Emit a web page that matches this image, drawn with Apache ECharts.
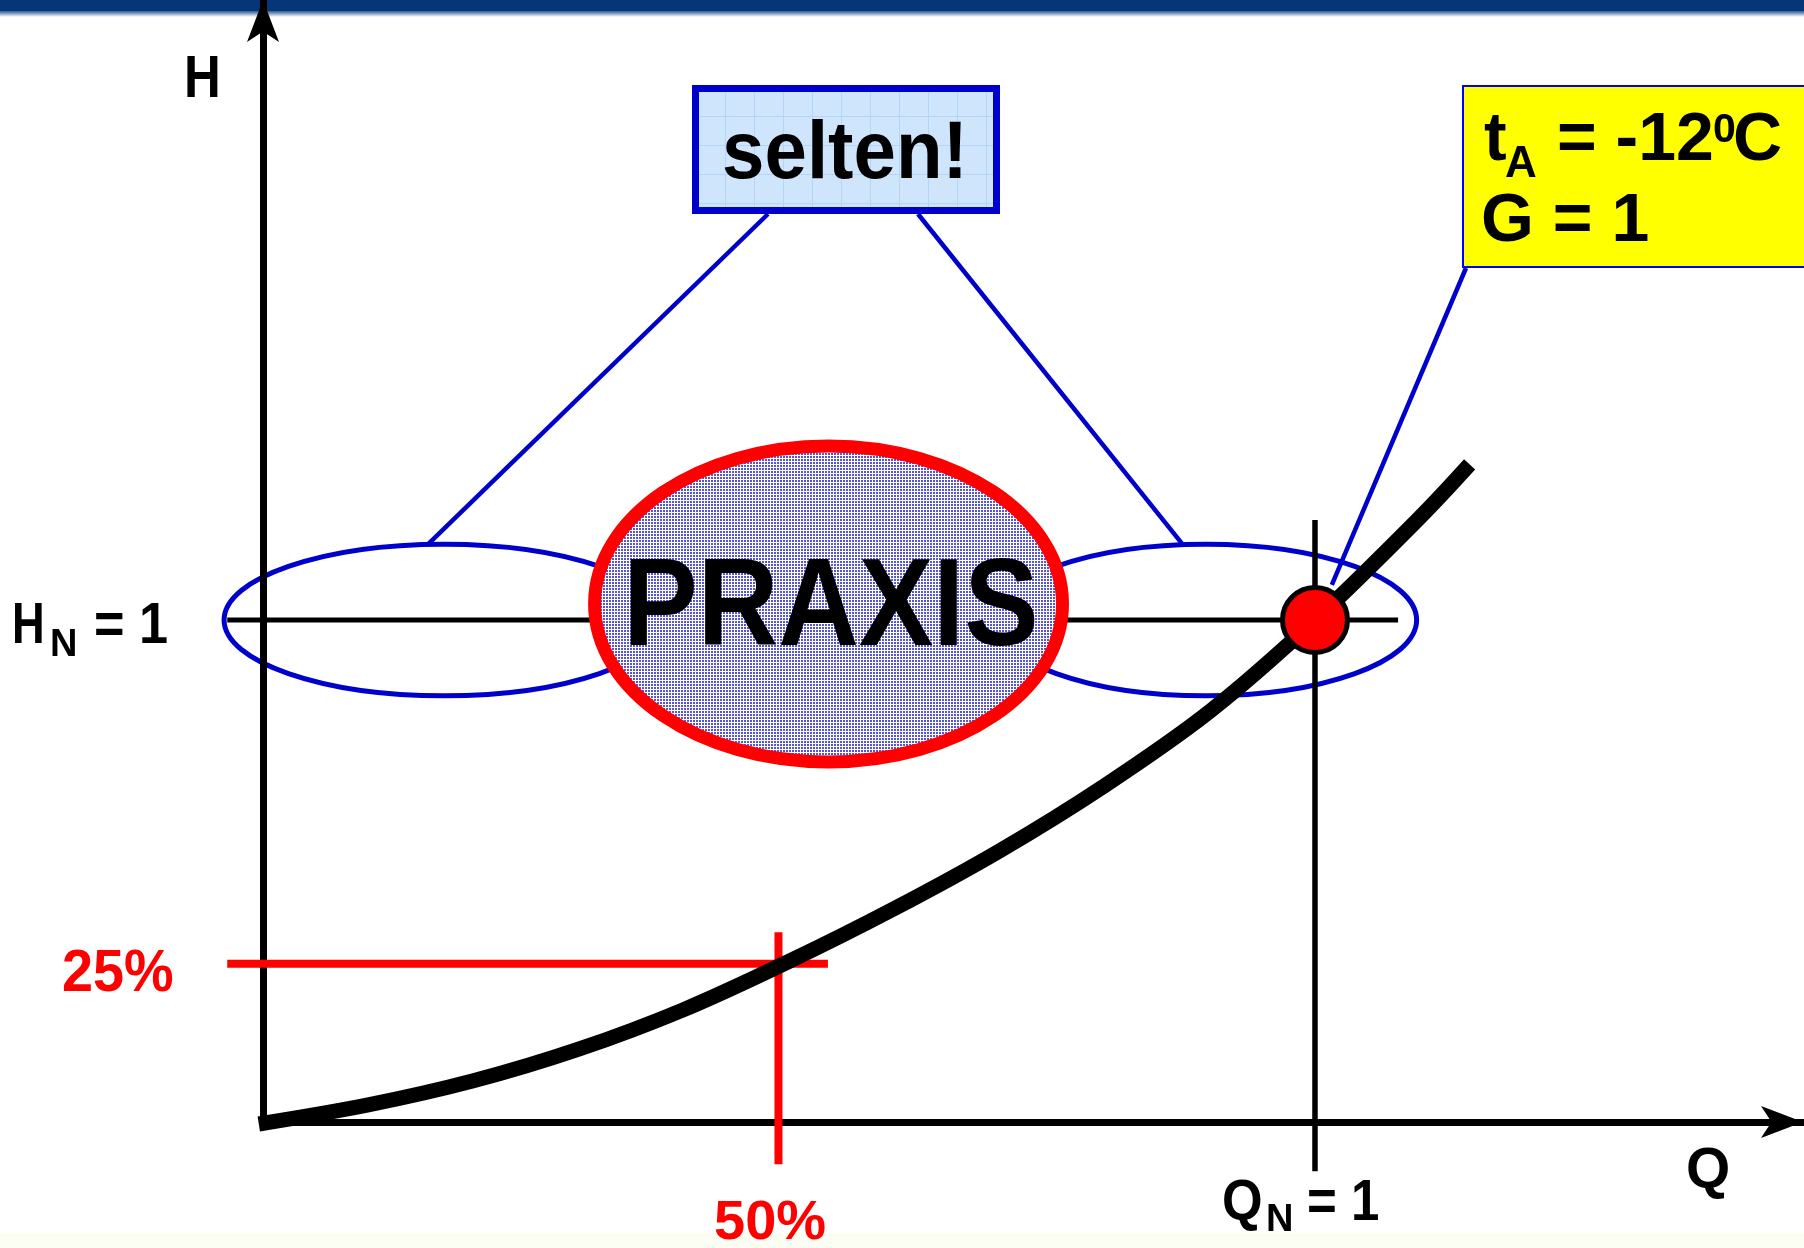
<!DOCTYPE html>
<html><head><meta charset="utf-8">
<script src="https://cdn.jsdelivr.net/npm/echarts@6/dist/echarts.min.js"></script>
<style>html,body{margin:0;padding:0;background:#fff}#c{width:1804px;height:1248px}</style>
</head><body><div id="c"></div>
<script>
// ---- data (Q relative flow, H relative head) ----
const curveQ = [-0.004, 0.1, 0.2, 0.3, 0.4, 0.5, 0.6, 0.7, 0.8, 0.9, 1.0, 1.1, 1.147];
const curveH = [-0.004, 0.034, 0.082, 0.145, 0.224, 0.32, 0.425, 0.54, 0.67, 0.818, 1.0, 1.205, 1.31];
const ratedPoint = [1, 1];            // Q_N = 1, H_N = 1
const partLoad = [0.49, 0.315];       // 50 % flow, "25 %" head
const tickLabels = { hN: 'H', hNsub: 'N', hNrest: '= 1', qN: 'Q', qNsub: 'N', qNrest: '= 1', h25: '25%', q50: '50%' };
const axisNames = { x: 'Q', y: 'H' };
const noteRare = 'selten!';
const notePractice = 'PRAXIS';
const noteDesign = { t: 't', tSub: 'A', rest: '= -12', sup: '0', unit: 'C', line2: 'G = 1' };

const FONT = '"Liberation Sans", Arial, Helvetica, sans-serif';
const chart = echarts.init(document.getElementById('c'), null, { renderer: 'canvas' });

const option = {
  animation: false,
  backgroundColor: '#ffffff',
  grid: { left: 263, top: 0, width: 1540, height: 1122, containLabel: false },
  xAxis: {
    type: 'value', min: 0, max: 1.4639, z: 4,
    axisLine: { show: true, onZero: false, symbol: ['none', 'arrow'], symbolSize: [24, 42], lineStyle: { color: '#000', width: 7 } },
    axisTick: { show: false }, axisLabel: { show: false }, splitLine: { show: false }
  },
  yAxis: {
    type: 'value', min: 0, max: 2.2351, z: 4,
    axisLine: { show: true, onZero: false, symbol: ['none', 'arrow'], symbolSize: [24, 42], lineStyle: { color: '#000', width: 7 } },
    axisTick: { show: false }, axisLabel: { show: false }, splitLine: { show: false }
  },
  series: [
    { type: 'line', z: 5, clip: false, symbol: 'none', silent: true, smooth: 0.35,
      data: curveQ.map((q, i) => [q, curveH[i]]),
      lineStyle: { color: '#000', width: 15, cap: 'butt', join: 'round' } },
    { type: 'scatter', z: 7, symbol: 'circle', symbolSize: 65, silent: true,
      data: [ratedPoint],
      itemStyle: { color: '#ff0000', borderColor: '#000', borderWidth: 5, opacity: 1 } }
  ]
};
chart.setOption(option);

function px(q, h) { return chart.convertToPixel({ gridIndex: 0 }, [q, h]); }
function pattern(w, h, draw) { const c = document.createElement('canvas'); c.width = w; c.height = h; draw(c.getContext('2d')); return c; }
const dots = pattern(3, 3, g => { g.fillStyle = '#ffffff'; g.fillRect(0, 0, 3, 3); g.fillStyle = '#5454d4'; g.fillRect(0, 0, 2, 2); });
const gridTile = pattern(29, 29, g => { g.fillStyle = '#cfe5fb'; g.fillRect(0, 0, 29, 29); g.fillStyle = '#b2d5f8'; g.fillRect(0, 0, 29, 1); g.fillRect(0, 0, 1, 29); });

function T(text, x, cy, size, color, sx, align) {
  return { type: 'text', x: x, y: cy, scaleX: sx || 1, z: 10, silent: true,
    style: { text: text, font: 'bold ' + size + 'px ' + FONT, fill: color || '#000',
      align: align || 'left', verticalAlign: 'middle', textAlign: align || 'left', textVerticalAlign: 'middle' } };
}
function ell(q, h, rq, rh, stroke, lw, fill, z) {
  const c = px(q, h), e = px(q + rq, h + rh);
  return { type: 'ellipse', z: z, silent: true,
    shape: { cx: c[0], cy: c[1], rx: Math.abs(e[0] - c[0]), ry: Math.abs(e[1] - c[1]) },
    style: { stroke: stroke, lineWidth: lw, fill: fill } };
}
function seg(p1, p2, color, lw, z) {
  return { type: 'line', z: z, silent: true, shape: { x1: p1[0], y1: p1[1], x2: p2[0], y2: p2[1] }, style: { stroke: color, lineWidth: lw, lineCap: 'butt' } };
}

const blue = '#0000cc';
const graphics = [
  // header band
  { type: 'rect', z: 0, silent: true, shape: { x: 0, y: 0, width: 1804, height: 11 }, style: { fill: '#06367a' } },
  { type: 'rect', z: 0, silent: true, shape: { x: 0, y: 11, width: 1804, height: 6 },
    style: { fill: new echarts.graphic.LinearGradient(0, 0, 0, 1, [{ offset: 0, color: '#2a5a92' }, { offset: 1, color: '#ffffff' }]) } },
  { type: 'rect', z: 0, silent: true, shape: { x: 0, y: 1233, width: 1804, height: 15 }, style: { fill: '#fcfdf3' } },
  // ellipses
  ell(0.172, 1, 0.209, 0.151, blue, 5, 'rgba(0,0,0,0)', 1),
  ell(0.896, 1, 0.2006, 0.151, blue, 5, 'rgba(0,0,0,0)', 1),
  // reference lines
  seg(px(-0.034, ratedPoint[1]), px(1.079, ratedPoint[1]), '#000', 5, 2),
  seg(px(ratedPoint[0], -0.098), px(ratedPoint[0], 1.199), '#000', 5.5, 5),
  seg(px(-0.034, partLoad[1]), px(0.537, partLoad[1]), '#ff0000', 8, 5),
  seg(px(partLoad[0], -0.084), px(partLoad[0], 0.378), '#ff0000', 8, 5),
  // praxis
  ell(0.5376, 1.032, 0.2224, 0.3147, '#ff0000', 13, { image: dots, repeat: 'repeat' }, 3),
  T(notePractice, 831, 611, 124, '#000', 0.9, 'center'),
  // connectors
  seg([768, 214], px(0.157, 1.151), blue, 4.5, 3),
  seg([918, 214], px(0.874, 1.151), blue, 4.5, 3),
  seg([1466, 268], px(1.016, 1.07), blue, 4.5, 6),
  // selten box
  { type: 'rect', z: 9, silent: true, shape: { x: 695.5, y: 88.5, width: 301, height: 122 },
    style: { fill: { image: gridTile, repeat: 'repeat' }, stroke: blue, lineWidth: 7 } },
  T(noteRare, 845, 155, 82, '#000', 0.93, 'center'),
  // yellow box
  { type: 'rect', z: 9, silent: true, shape: { x: 1463, y: 86, width: 360, height: 181 },
    style: { fill: '#ffff00', stroke: '#0000ff', lineWidth: 2 } },
  T(noteDesign.t, 1484, 141, 68),
  T(noteDesign.tSub, 1505, 165, 44),
  T(noteDesign.rest, 1557, 141, 68),
  T(noteDesign.sup, 1713, 131, 41),
  T(noteDesign.unit, 1733, 141, 68),
  T(noteDesign.line2, 1481, 222, 68),
  // axis names & tick labels
  T(axisNames.y, 184, 80, 60, '#000', 0.85),
  T(axisNames.x, 1686, 1172, 58, '#000', 0.98),
  T(tickLabels.hN, 12, 627, 58, '#000', 0.78),
  T(tickLabels.hNsub, 50, 646, 38),
  T(tickLabels.hNrest, 94, 627, 58, '#000', 0.9),
  T(tickLabels.qN, 1222, 1204, 58, '#000', 0.9),
  T(tickLabels.qNsub, 1266, 1221, 38),
  T(tickLabels.qNrest, 1307, 1204, 58, '#000', 0.88),
  T(tickLabels.h25, 62, 974, 60, '#ff0000', 0.93),
  T(tickLabels.q50, 714, 1224, 56, '#ff0000', 1.0)
];
chart.setOption({ graphic: { elements: graphics } });
</script>
</body></html>
